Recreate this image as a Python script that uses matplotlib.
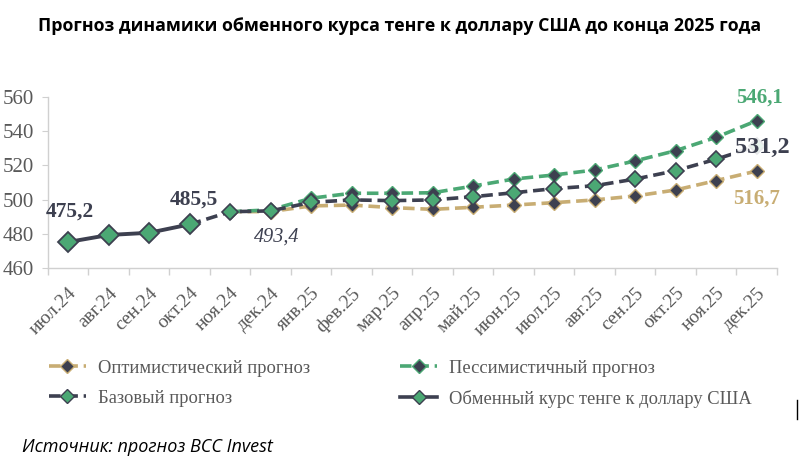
import matplotlib
matplotlib.use("Agg")
import matplotlib.pyplot as plt
from matplotlib.lines import Line2D

months = ['июл.24', 'авг.24', 'сен.24', 'окт.24', 'ноя.24', 'дек.24',
          'янв.25', 'фев.25', 'мар.25', 'апр.25', 'май.25', 'июн.25',
          'июл.25', 'авг.25', 'сен.25', 'окт.25', 'ноя.25', 'дек.25']

actual = [475.2, 479.3, 480.6, 485.5]
base = [485.5, 492.9, 493.4, 498.4, 499.8, 499.4, 499.8, 501.7, 504.0,
        506.4, 508.1, 512.0, 516.9, 523.6, 531.2]
pess = [492.9, 494.0, 500.8, 503.7, 503.7, 504.0, 507.9, 512.0, 514.4,
        517.3, 522.6, 528.6, 536.4, 546.1]
opt = [492.9, 493.0, 496.3, 496.8, 495.3, 494.3, 495.5, 496.8, 498.2,
       499.8, 502.1, 505.6, 511.1, 516.7]

labels = ['Оптимистический прогноз', 'Пессимистичный прогноз',
          'Базовый прогноз', 'Обменный курс тенге к доллару США']

TAN = '#C8AD73'
GREEN = '#4BA874'
DARK = '#3D4050'
GREY_TXT = '#595959'

plt.rcParams['font.family'] = ['Liberation Serif', 'DejaVu Serif']

fig = plt.figure(figsize=(8, 4.65), dpi=100)
ax = fig.add_axes([0.06, 0.4237, 0.911, 0.3677])

x_act = list(range(0, len(actual)))
x_base = list(range(3, 3 + len(base)))
x_pess = list(range(4, 4 + len(pess)))
x_opt = list(range(4, 4 + len(opt)))

dash = (0, (3.2, 1.6))
ax.plot(x_opt, opt, color=TAN, lw=2.6, linestyle=dash, marker='D', ms=7,
        markerfacecolor=DARK, markeredgecolor=TAN, markeredgewidth=1.0, zorder=2)
ax.plot(x_pess, pess, color=GREEN, lw=2.6, linestyle=dash, marker='D', ms=7,
        markerfacecolor=DARK, markeredgecolor=GREEN, markeredgewidth=1.0, zorder=3)
ax.plot(x_base, base, color=DARK, lw=2.6, linestyle=dash, marker='D', ms=8.5,
        markerfacecolor=GREEN, markeredgecolor=DARK, markeredgewidth=1.2, zorder=4)
ax.plot(x_act, actual, color=DARK, lw=2.8, linestyle='-', marker='D', ms=10.5,
        markerfacecolor=GREEN, markeredgecolor=DARK, markeredgewidth=1.3, zorder=5)

ax.set_xlim(-0.5, len(months) - 0.5)
ax.set_ylim(460, 560)
ax.set_yticks(range(460, 561, 20))
ax.set_xticks(range(len(months)))
ax.set_xticklabels(months, rotation=45, ha='right', rotation_mode='anchor')
ax.set_xticks([i - 0.5 for i in range(len(months) + 1)], minor=True)
ax.tick_params(axis='x', which='major', length=0, pad=12, labelsize=14, labelcolor=GREY_TXT)
ax.tick_params(axis='x', which='minor', length=5, color='#d0d0d0', width=1)
ax.tick_params(axis='y', length=4, color='#d0d0d0', labelsize=15, labelcolor=GREY_TXT, pad=6)
for s in ['top', 'right']:
    ax.spines[s].set_visible(False)
for s in ['left', 'bottom']:
    ax.spines[s].set_color('#d0d0d0')
    ax.spines[s].set_linewidth(1)

# data labels
ax.annotate('475,2', (0, actual[0]), xytext=(1, 22), textcoords='offset points',
            ha='center', va='center', fontsize=15.5, fontweight='bold', color=DARK)
ax.annotate('485,5', (3, actual[3]), xytext=(3, 18), textcoords='offset points',
            ha='center', va='center', fontsize=15.5, fontweight='bold', color=DARK)
ax.annotate('493,4', (5, base[2]), xytext=(4, -19), textcoords='offset points',
            ha='center', va='center', fontsize=14.5, fontstyle='italic', color=DARK)
ax.annotate('546,1', (17, pess[-1]), xytext=(2, 17), textcoords='offset points',
            ha='center', va='center', fontsize=15, fontweight='bold', color=GREEN)
ax.annotate('531,2', (17, base[-1]), xytext=(4, -1), textcoords='offset points',
            ha='center', va='center', fontsize=17.5, fontweight='bold', color=DARK, zorder=10,
            bbox=dict(boxstyle='square,pad=0.15', facecolor='white', edgecolor='none', alpha=0.88))
ax.annotate('516,7', (17, opt[-1]), xytext=(0, -20), textcoords='offset points',
            ha='center', va='center', fontsize=15, fontweight='bold', color=TAN)

# legend
h_opt = Line2D([], [], color=TAN, lw=2.6, linestyle=dash, marker='D', ms=7,
               markerfacecolor=DARK, markeredgecolor=TAN)
h_pess = Line2D([], [], color=GREEN, lw=2.6, linestyle=dash, marker='D', ms=7,
                markerfacecolor=DARK, markeredgecolor=GREEN)
h_base = Line2D([], [], color=DARK, lw=2.6, linestyle=dash, marker='D', ms=7,
                markerfacecolor=GREEN, markeredgecolor=DARK)
h_act = Line2D([], [], color=DARK, lw=2.6, linestyle='-', marker='D', ms=7,
               markerfacecolor=GREEN, markeredgecolor=DARK)
fig.legend([h_opt, h_base, h_pess, h_act], [labels[0], labels[2], labels[1], labels[3]],
           ncol=2, loc='upper left', bbox_to_anchor=(0.04, 0.262), frameon=False,
           fontsize=13.3, handlelength=2.0, handletextpad=0.65, columnspacing=4.9,
           labelspacing=0.7, labelcolor=GREY_TXT)

fig.text(0.5, 0.945, 'Прогноз динамики обменного курса тенге к доллару США до конца 2025 года',
         ha='center', va='center', fontsize=12.8, fontweight='bold', family=['Open Sans', 'DejaVu Sans'])
fig.text(0.028, 0.039, 'Источник: прогноз BCC Invest', ha='left', va='center', fontsize=13,
         fontstyle='italic', family=['Open Sans', 'DejaVu Sans'])
fig.add_artist(Line2D([0.9965, 0.9965], [0.10, 0.14], color='black', lw=1, transform=fig.transFigure))

fig.savefig('out.png', dpi=100)
